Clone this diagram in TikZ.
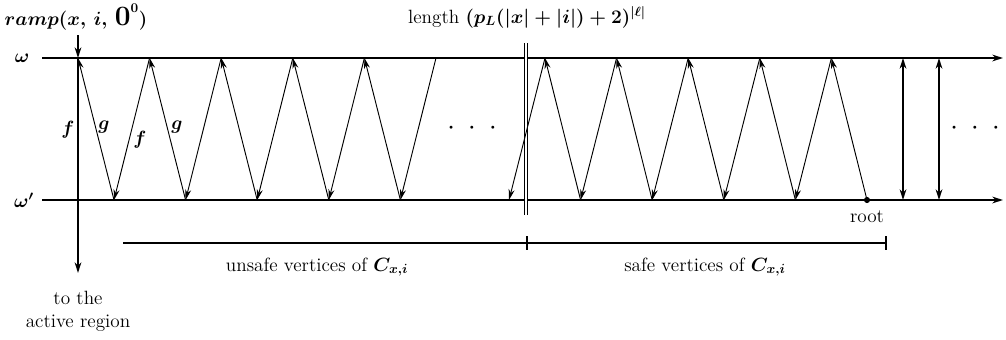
\documentclass[tikz,border=0pt]{standalone}
\usetikzlibrary{arrows.meta, positioning, calc}

\begin{document}
\begin{tikzpicture}[x=0.75pt, y=-0.75pt,
    every node/.style={font=\fontsize{14.4}{17}\selectfont\boldmath, inner sep=0pt},
    zig/.style={line width=0.7pt, -{Stealth[length=8pt, width=4.5pt]}},
    axis/.style={line width=1.6pt},
    tip/.style={-{Stealth[length=8pt, width=5pt]}},
    twotips/.style={{Stealth[length=8pt, width=5pt]}-{Stealth[length=8pt, width=5pt]}}]
        % 固定画布大小
        \useasboundingbox (0,0) rectangle (1006,339);
        % 定义两条水平线的高度
        \def\ytop{58}
        \def\ybot{200}
        % 定义锯齿的间距和半宽
        \def\gap{71.6}
        \def\half{36}
        % 绘制两条水平线 omega 和 omega'
        \coordinate (wl) at (42,\ytop);
        \coordinate (wr) at (1003,\ytop);
        \coordinate (vl) at (42,\ybot);
        \coordinate (vr) at (1003,\ybot);
        \draw[axis, tip] (wl) -- (wr);
        \draw[axis, tip] (vl) -- (vr);
        \node (omega) at (22,\ytop) {$\omega$};
        \node (omegap) at (24,\ybot) {$\omega'$};
        % 绘制中间的双竖线
        \coordinate (sepa) at (526.2,43);
        \coordinate (sepb) at (526.2,215);
        \draw[line width=0.9pt, double, double distance=1.6pt] (sepa) -- (sepb);
        % 左边的锯齿：顶点 P 与底点 V
        \foreach \k in {0,...,5} {
            \coordinate (P\k) at (78+\k*\gap,\ytop);
            \coordinate (V\k) at (78+\k*\gap+\half,\ybot);
        }
        \foreach \k in {0,...,4} {
            \pgfmathtruncatemacro\n{\k+1}
            \draw[zig] (V\k) -- (P\k);
            \draw[zig] (P\n) -- (V\k);
        }
        % 右边的锯齿：顶点 Q 与底点 W，最后一个底点是 root
        \foreach \k in {0,...,5} {
            \coordinate (Q\k) at (545+\k*\gap,\ytop);
            \coordinate (W\k) at (545+\k*\gap-\half,\ybot);
        }
        \foreach \k in {0,...,4} {
            \pgfmathtruncatemacro\n{\k+1}
            \draw[zig] (Q\k) -- (W\k);
            \draw[zig] (W\n) -- (Q\k);
        }
        \fill (W5) circle (2.3pt);
        \node (root) [below=8pt of W5] {root};
        % 左边的竖直箭头 ramp
        \coordinate (rtop) at (78,35);
        \coordinate (rbot) at (78,273);
        \draw[axis, tip] (rtop) -- (P0);
        \draw[axis, tip] (P0) -- (rbot);
        \node (ramp) at (76,17) {$ramp(x,\,i,\,\mbox{\fontsize{21}{21}\selectfont\bfseries 0}^{0})$};
        \node[align=center] (active) at (78,311) {to the\\active region};
        % 标注指针 f 和 g
        \node (f0) at (68,130) {$f$};
        \node (g0) at (104,127) {$g$};
        \node (f1) at (140,140) {$f$};
        \node (g1) at (177,127) {$g$};
        % 右边的两条双向箭头
        \coordinate (h1b) at (903,\ybot);
        \coordinate (h1t) at (903,\ytop);
        \coordinate (h2b) at (939,\ybot);
        \coordinate (h2t) at (939,\ytop);
        \draw[axis, twotips] (h1b) -- (h1t);
        \draw[axis, twotips] (h2b) -- (h2t);
        % 省略号
        \node (dotsl) at (472,128) {$\cdot\;\,\cdot\;\,\cdot$};
        \node (dotsr) at (975,128) {$\cdot\;\,\cdot\;\,\cdot$};
        % 长度标注
        \node (len) at (527,17) {length $(p_L(|x|+|i|)+2)^{|\ell|}$};
        % 下方的区间线
        \coordinate (bl) at (123,243);
        \coordinate (bm) at (527,243);
        \coordinate (br) at (886,243);
        \draw[axis] (bl) -- (br);
        \draw[axis] (bm) ++(0,-7) -- ++(0,14);
        \draw[axis] (br) ++(0,-7) -- ++(0,14);
        \node (unsafe) at (317,267) {unsafe vertices of $C_{x,i}$};
        \node (safe) at (705,267) {safe vertices of $C_{x,i}$};
    \end{tikzpicture}
\end{document}
